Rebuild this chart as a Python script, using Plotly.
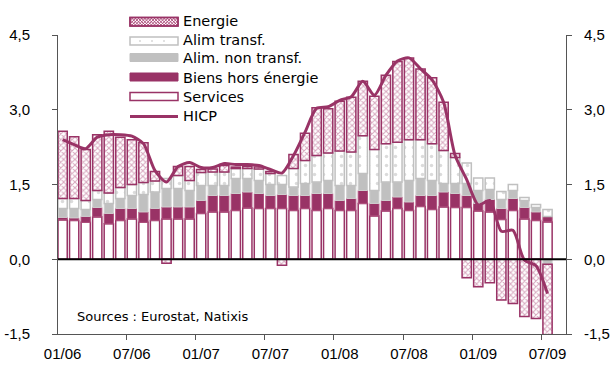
import plotly.graph_objects as go

months = ["01/06", "02/06", "03/06", "04/06", "05/06", "06/06", "07/06", "08/06", "09/06", "10/06", "11/06", "12/06",
          "01/07", "02/07", "03/07", "04/07", "05/07", "06/07", "07/07", "08/07", "09/07", "10/07", "11/07", "12/07",
          "01/08", "02/08", "03/08", "04/08", "05/08", "06/08", "07/08", "08/08", "09/08", "10/08", "11/08", "12/08",
          "01/09", "02/09", "03/09", "04/09", "05/09", "06/09", "07/09"]

services = [0.79, 0.78, 0.74, 0.85, 0.71, 0.78, 0.81, 0.74, 0.78, 0.81,
            0.81, 0.81, 0.92, 0.95, 0.95, 0.98, 1.03, 1.02, 1.02, 1.02,
            0.98, 1.02, 0.98, 1.02, 0.98, 0.98, 1.12, 0.87, 0.97, 1.02,
            0.98, 1.06, 1.00, 1.05, 1.04, 1.04, 0.97, 0.95, 0.80, 0.98,
            0.81, 0.78, 0.75]
biens = [0.05, 0.05, 0.12, 0.19, 0.21, 0.24, 0.21, 0.21, 0.24, 0.24,
         0.24, 0.24, 0.26, 0.33, 0.33, 0.34, 0.32, 0.30, 0.26, 0.28,
         0.30, 0.26, 0.34, 0.30, 0.20, 0.24, 0.26, 0.25, 0.21, 0.23,
         0.17, 0.22, 0.28, 0.30, 0.28, 0.24, 0.15, 0.25, 0.22, 0.24,
         0.23, 0.17, 0.11]
alim_non_transf = [0.18, 0.19, 0.14, 0.16, 0.20, 0.20, 0.26, 0.35, 0.33, 0.37,
                   0.37, 0.33, 0.30, 0.20, 0.20, 0.30, 0.27, 0.26, 0.22, 0.20,
                   0.17, 0.24, 0.23, 0.26, 0.30, 0.26, 0.34, 0.26, 0.37, 0.30,
                   0.43, 0.34, 0.30, 0.17, 0.20, 0.24, 0.26, 0.20, 0.18, 0.16,
                   0.14, 0.09, -0.10]
alim_transf = [0.20, 0.20, 0.18, 0.18, 0.21, 0.22, 0.22, 0.24, 0.22, 0.20,
               0.26, 0.20, 0.26, 0.27, 0.27, 0.20, 0.20, 0.23, 0.22, 0.18,
               0.37, 0.46, 0.53, 0.55, 0.69, 0.67, 0.76, 0.82, 0.77, 0.80,
               0.82, 0.78, 0.74, 0.66, 0.52, 0.41, 0.25, 0.23, 0.16, 0.12,
               0.06, 0.06, 0.14]
energie = [1.35, 1.24, 1.02, 1.12, 1.24, 1.01, 0.90, 0.80, 0.19, -0.08,
           0.18, 0.28, 0.06, 0.06, 0.13, 0.03, 0.04, 0.04, 0.04, -0.12,
           0.28, 0.55, 0.96, 0.89, 1.00, 1.10, 1.09, 1.07, 1.37, 1.62,
           1.64, 1.42, 1.32, 0.97, 0.08, -0.37, -0.55, -0.47, -0.82, -0.89,
           -1.15, -1.19, -1.42]
hicp = [2.40, 2.30, 2.22, 2.45, 2.50, 2.50, 2.47, 2.32, 1.78, 1.55,
        1.86, 1.94, 1.84, 1.84, 1.92, 1.90, 1.90, 1.88, 1.80, 1.73,
        2.08, 2.55, 3.03, 3.06, 3.19, 3.26, 3.57, 3.29, 3.69, 3.98,
        4.04, 3.82, 3.60, 3.15, 2.08, 1.60, 1.09, 1.18, 0.56, 0.58,
        -0.02, -0.13, -0.69]

y_ticks = [-1.5, 0.0, 1.5, 3.0, 4.5]
y_ticktext = ["-1,5", "0,0", "1,5", "3,0", "4,5"]
x_tickvals = list(range(0, len(months), 6))
x_ticktext = [months[i] for i in x_tickvals]

MAG = "#993366"
MAG_LIGHT = "#B0507E"
GRAY = "#C0C0C0"
FIG_W, FIG_H = 616, 367
L, R, T, B = 58, 50, 35, 33
PW, PH = FIG_W - L - R, FIG_H - T - B

x = list(range(len(months)))
BW = 0.8

fig = go.Figure()
fig.add_trace(go.Bar(x=x, y=services, name="Services", width=BW,
                     marker=dict(color="white", line=dict(color=MAG, width=1.5))))
fig.add_trace(go.Bar(x=x, y=biens, name="Biens hors énergie", width=BW,
                     marker=dict(color=MAG, line=dict(color=MAG_LIGHT, width=1))))
fig.add_trace(go.Bar(x=x, y=alim_non_transf, name="Alim. non transf.", width=BW,
                     marker=dict(color=GRAY, line=dict(color="#D0D0D0", width=1))))
fig.add_trace(go.Bar(x=x, y=alim_transf, name="Alim transf.", width=BW,
                     marker=dict(color="white", line=dict(color=GRAY, width=1.5),
                                 pattern=dict(shape=".", fgcolor="#B8B8B8", bgcolor="white",
                                              size=9, solidity=0.12))))
fig.add_trace(go.Bar(x=x, y=energie, name="Energie", width=BW,
                     marker=dict(color="white", line=dict(color=MAG, width=1.5),
                                 pattern=dict(shape="x", fgcolor=MAG_LIGHT, bgcolor="white",
                                              size=4, solidity=0.45))))
fig.add_trace(go.Scatter(x=x, y=hicp, name="HICP", mode="lines",
                         line=dict(color=MAG, width=3, shape="spline", smoothing=0.7)))
fig.update_traces(showlegend=False)

# invisible anchor so the duplicated right axis is drawn
fig.add_trace(go.Scatter(x=[x[0]], y=[y_ticks[0]], yaxis="y2", mode="markers",
                         marker=dict(opacity=0), hoverinfo="skip", showlegend=False))


def px_to_paper(px, py):
    return (px - L) / PW, (FIG_H - B - py) / PH


shapes = []
# zero line
shapes.append(dict(type="line", xref="paper", yref="y", x0=0, x1=1, y0=0, y1=0,
                   line=dict(color="black", width=2), layer="above"))


def rect(px0, py0, px1, py1, fill, line_color, lw=1.5):
    x0, y0 = px_to_paper(px0, py1)
    x1, y1 = px_to_paper(px1, py0)
    return dict(type="rect", xref="paper", yref="paper", x0=x0, x1=x1, y0=y0, y1=y1,
                fillcolor=fill, line=dict(color=line_color, width=lw), layer="above")


SX0, SX1 = 130, 178
legend_rows = [
    ("Energie", 17.5, 26, 21.5),
    ("Alim transf.", 37, 45, 40),
    ("Alim. non transf.", 53.5, 61.5, 58.5),
    ("Biens hors énergie", 73, 81, 77.5),
    ("Services", 92.5, 100.5, 96.5),
]
LEG_FONT = dict(family="DejaVu Sans", size=14.5, color="black")
annotations = []
for name, y0p, y1p, ty_px in legend_rows:
    if name == "Energie":
        shapes.append(rect(SX0, y0p, SX1, y1p, "white", MAG))
        segs = []
        s = 3.2
        c = SX0 - y1p
        while c < SX1 - y0p:
            xa, xb = max(SX0, y0p + c), min(SX1, y1p + c)
            if xb > xa:
                segs.append(((xa, xa - c), (xb, xb - c)))
            c += s
        c = SX0 + y0p
        while c < SX1 + y1p:
            xa, xb = max(SX0, c - y1p), min(SX1, c - y0p)
            if xb > xa:
                segs.append(((xa, c - xa), (xb, c - xb)))
            c += s
        path = ""
        for (ax, ay), (bx, by) in segs:
            p0 = px_to_paper(ax, ay)
            p1 = px_to_paper(bx, by)
            path += f"M{p0[0]:.5f},{p0[1]:.5f}L{p1[0]:.5f},{p1[1]:.5f}"
        shapes.append(dict(type="path", xref="paper", yref="paper", path=path,
                           line=dict(color=MAG_LIGHT, width=1), layer="above"))
        shapes.append(rect(SX0, y0p, SX1, y1p, "rgba(0,0,0,0)", MAG))
    elif name == "Alim transf.":
        shapes.append(rect(SX0, y0p, SX1, y1p, "white", GRAY))
        for dx in (140, 152, 164):
            cx, cy = px_to_paper(dx, (y0p + y1p) / 2)
            r = 0.8 / PW
            rv = 0.8 / PH
            shapes.append(dict(type="circle", xref="paper", yref="paper",
                               x0=cx - r, x1=cx + r, y0=cy - rv, y1=cy + rv,
                               fillcolor="#BBBBBB", line=dict(width=0), layer="above"))
    elif name == "Alim. non transf.":
        shapes.append(rect(SX0, y0p, SX1, y1p, GRAY, GRAY, 1))
    elif name == "Biens hors énergie":
        shapes.append(rect(SX0, y0p, SX1, y1p, MAG, MAG, 1))
    else:
        shapes.append(rect(SX0, y0p, SX1, y1p, "white", MAG))
    tx, ty = px_to_paper(182, ty_px)
    annotations.append(dict(text=name, x=tx, y=ty, xref="paper", yref="paper",
                            xanchor="left", yanchor="middle", showarrow=False,
                            borderpad=0, font=LEG_FONT))

# HICP legend line
hx0, hy = px_to_paper(SX0, 116.5)
hx1, _ = px_to_paper(SX1, 116.5)
shapes.append(dict(type="line", xref="paper", yref="paper", x0=hx0, x1=hx1, y0=hy, y1=hy,
                   line=dict(color=MAG, width=3)))
tx, ty = px_to_paper(182, 116)
annotations.append(dict(text="HICP", x=tx, y=ty, xref="paper", yref="paper",
                        xanchor="left", yanchor="middle", showarrow=False,
                        borderpad=0, font=LEG_FONT))

sx, sy = px_to_paper(75, 316)
annotations.append(dict(text="Sources : Eurostat, Natixis", x=sx, y=sy, xref="paper", yref="paper",
                        xanchor="left", yanchor="middle", showarrow=False,
                        font=dict(family="DejaVu Sans", size=13, color="black")))

axis_font = dict(family="Liberation Sans, Arial", size=15, color="black")
fig.update_layout(
    width=FIG_W, height=FIG_H,
    margin=dict(l=L, r=R, t=T, b=B, pad=0, autoexpand=False),
    barmode="relative",
    bargap=0.2,
    plot_bgcolor="white", paper_bgcolor="white",
    showlegend=False,
    shapes=shapes,
    annotations=annotations,
    xaxis=dict(range=[-0.4, 43.6], tickmode="array", tickvals=x_tickvals, ticktext=x_ticktext,
               ticks="", showline=True, linecolor="#555555", linewidth=1, automargin=False,
               showgrid=False, zeroline=False, tickfont=axis_font, ticklabelstandoff=6,
               minor=dict(ticks="outside", tick0=-0.5, dtick=6, ticklen=5,
                          tickcolor="#555555", showgrid=False)),
    yaxis=dict(range=[-1.5, 4.5], tickmode="array", tickvals=y_ticks, ticktext=y_ticktext,
               ticks="outside", ticklen=5, tickcolor="#555555", showline=True, automargin=False,
               linecolor="#555555", linewidth=1, showgrid=False, zeroline=False,
               tickfont=axis_font, ticklabelstandoff=19),
    yaxis2=dict(range=[-1.5, 4.5], tickmode="array", tickvals=y_ticks, ticktext=y_ticktext,
                overlaying="y", side="right", anchor="x", automargin=False,
                ticks="outside", ticklen=5, tickcolor="#555555", showline=True,
                linecolor="#555555", linewidth=1, showgrid=False, zeroline=False,
                tickfont=axis_font, ticklabelstandoff=9),
)

fig.write_html("out.html")
